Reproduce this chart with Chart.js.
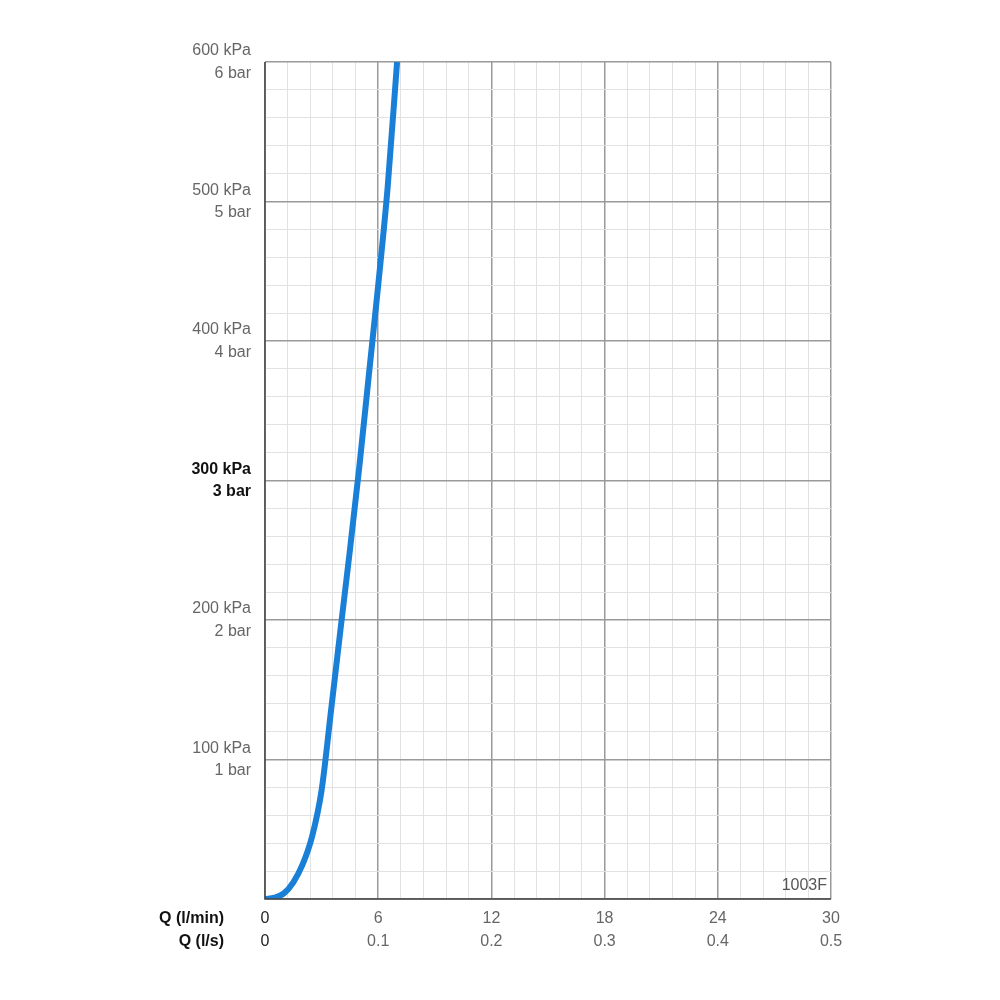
<!DOCTYPE html>
<html><head><meta charset="utf-8">
<script src="https://cdn.jsdelivr.net/npm/chart.js@4"></script>
<style>html,body{margin:0;padding:0;background:#fff}#w{width:1000px;height:1000px}</style>
</head><body><div id="w"><canvas id="c"></canvas></div>
<script>
const flowLmin = [0, 0.5, 1, 1.5, 2, 2.5, 3, 3.5, 4, 4.5, 5, 5.5, 6, 6.5, 7];
const pressureKPa = [0, 1, 4, 12, 25, 45, 78, 135, 193, 250, 310, 375, 440, 510, 600];
const xLabelsLmin = ["0", "6", "12", "18", "24", "30"];
const xLabelsLs = ["0", "0.1", "0.2", "0.3", "0.4", "0.5"];
const yLabelsKPa = ["0", "100 kPa", "200 kPa", "300 kPa", "400 kPa", "500 kPa", "600 kPa"];
const yLabelsBar = ["", "1 bar", "2 bar", "3 bar", "4 bar", "5 bar", "6 bar"];
const FONT = "'Liberation Sans', Arial, sans-serif";

const isMajorX = v => Math.abs(v/6 - Math.round(v/6)) < 1e-6;
const isMajorY = v => Math.abs(v/100 - Math.round(v/100)) < 1e-6;

const overlay = {
  id: 'overlay',
  afterDraw(chart) {
    const ctx = chart.ctx, a = chart.chartArea;
    ctx.save();
    ctx.fillStyle = '#111';
    ctx.font = "bold 16px " + FONT;
    ctx.textAlign = 'right';
    ctx.textBaseline = 'middle';
    ctx.fillText('Q (l/min)', 224, a.bottom + 20);
    ctx.fillText('Q (l/s)', 224, a.bottom + 43);
    ctx.fillStyle = '#555';
    ctx.font = "16px " + FONT;
    ctx.fillText('1003F', a.right - 4, a.bottom - 13);
    // axis lines
    ctx.strokeStyle = '#444'; ctx.lineWidth = 1.5;
    ctx.beginPath(); ctx.moveTo(a.left, a.top); ctx.lineTo(a.left, a.bottom); ctx.lineTo(a.right, a.bottom); ctx.stroke();
    ctx.restore();
  }
};

new Chart(document.getElementById('c'), {
  type: 'line',
  data: { datasets: [{
    data: flowLmin.map((x, i) => ({x, y: pressureKPa[i]})),
    borderColor: '#1a7fd6', borderWidth: 6, pointRadius: 0, tension: 0.4,
    cubicInterpolationMode: 'monotone', fill: false
  }]},
  options: {
    responsive: true, maintainAspectRatio: false, animation: false,
    layout: { padding: { left: 0, right: 169, top: 62, bottom: 0 } },
    plugins: { legend: { display: false }, tooltip: { enabled: false } },
    scales: {
      x: {
        type: 'linear', min: 0, max: 30,
        afterFit(s) { s.height = 101; },
        afterBuildTicks(s) { const t = []; for (let i = 0; i <= 25; i++) t.push({value: +(i*1.2).toFixed(2)}); s.ticks = t; },
        grid: { color: c => isMajorX(c.tick.value) ? '#9a9a9a' : '#e2e2e2', lineWidth: c => isMajorX(c.tick.value) ? 1.5 : 1, drawTicks: false },
        border: { display: false },
        ticks: {
          autoSkip: false, maxRotation: 0, padding: 8,
          font: { size: 16, family: FONT, lineHeight: 1.45 },
          color: c => c.tick && c.tick.value === 0 ? '#222' : '#666',
          callback: v => isMajorX(v) ? [xLabelsLmin[Math.round(v/6)], xLabelsLs[Math.round(v/6)]] : ''
        }
      },
      y: {
        type: 'linear', min: 0, max: 600,
        afterFit(s) { s.width = 265; },
        afterBuildTicks(s) { const t = []; for (let i = 0; i <= 30; i++) t.push({value: i*20}); s.ticks = t; },
        grid: { color: c => isMajorY(c.tick.value) ? '#9a9a9a' : '#e2e2e2', lineWidth: c => isMajorY(c.tick.value) ? 1.5 : 1, drawTicks: false },
        border: { display: false },
        ticks: {
          autoSkip: false, padding: 14,
          font: c => ({ size: 16, family: FONT, lineHeight: 1.4, weight: c.tick && c.tick.value === 300 ? 'bold' : 'normal' }),
          color: c => c.tick && c.tick.value === 300 ? '#111' : '#666',
          callback: v => (isMajorY(v) && v > 0) ? [yLabelsKPa[v/100], yLabelsBar[v/100]] : ''
        }
      }
    }
  },
  plugins: [overlay]
});
</script></body></html>
